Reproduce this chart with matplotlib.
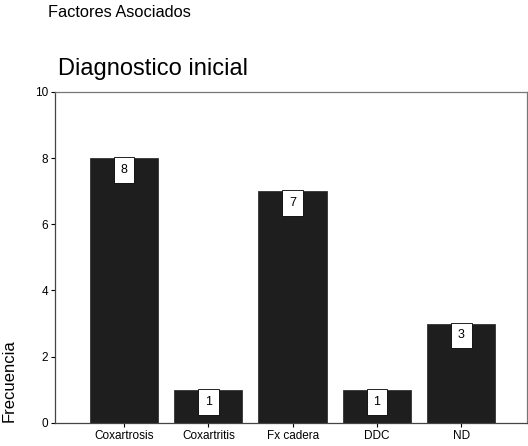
import numpy as np
import matplotlib.pyplot as plt

plt.rcParams['font.family'] = ['Liberation Sans', 'DejaVu Sans']

categorias = ['Coxartrosis', 'Coxartritis', 'Fx cadera', 'DDC', 'ND']
frecuencia = [8, 1, 7, 1, 3]

fig = plt.figure(figsize=(5.28, 4.46), dpi=100)
ax = fig.add_axes([0.104, 0.052, 0.894, 0.742])

x = np.arange(len(categorias))
ax.bar(x, frecuencia, width=0.81, color='#1e1e1e', edgecolor='#333333', linewidth=0.6)

# etiqueta con el valor dentro de un recuadro blanco
for xi, v in zip(x, frecuencia):
    ax.text(xi, v - 0.36, str(v), ha='center', va='center', fontsize=9,
            bbox=dict(boxstyle='square,pad=0.55', facecolor='white', edgecolor='black', linewidth=0.6))

ax.set_xlim(-0.82, 4.78)
ax.set_ylim(0, 10)
ax.set_xticks(x)
ax.set_xticklabels(categorias, fontsize=8.5)
ax.set_yticks([0, 2, 4, 6, 8, 10])
ax.tick_params(axis='both', labelsize=8.5, length=3, width=0.8, direction='out', pad=2)
for s in ['left', 'bottom']:
    ax.spines[s].set_linewidth(0.9)
    ax.spines[s].set_color('#444444')
for s in ['top', 'right']:
    ax.spines[s].set_linewidth(0.9)
    ax.spines[s].set_color('#777777')

ax.set_ylabel('Frecuencia', fontsize=12)
ax.yaxis.set_label_coords(-0.082, 0.127)

fig.text(0.11, 0.845, 'Diagnostico inicial', fontsize=17, ha='left', va='center')
fig.text(0.09, 0.972, 'Factores Asociados', fontsize=11.8, ha='left', va='center')

plt.savefig('out.png', dpi=100)
